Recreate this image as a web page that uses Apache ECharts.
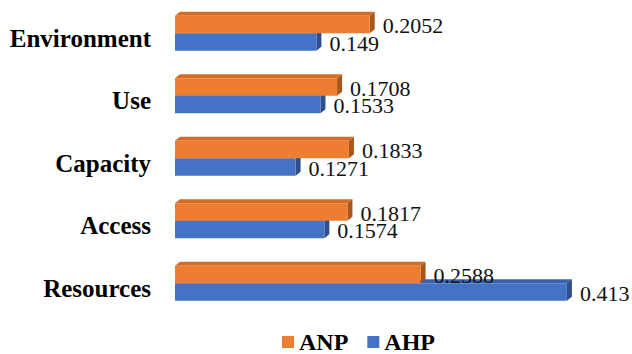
<!DOCTYPE html>
<html>
<head>
<meta charset="utf-8">
<script src="https://cdn.jsdelivr.net/npm/echarts@6/dist/echarts.min.js"></script>
<style>
  html, body { margin: 0; padding: 0; background: #ffffff; }
  #chart { width: 632px; height: 354px; }
</style>
</head>
<body>
<div id="chart"></div>
<script>
// Criteria (top to bottom) and the weights from the two methods
const categories = ['Environment', 'Use', 'Capacity', 'Access', 'Resources'];
const anpValues = [0.2052, 0.1708, 0.1833, 0.1817, 0.2588];
const ahpValues = [0.149, 0.1533, 0.1271, 0.1574, 0.413];
const seriesNames = ['ANP', 'AHP'];

const FONT = '"Liberation Serif", "Times New Roman", serif';
const DEPTH_X = 5, DEPTH_Y = 4;       // extrusion of the pseudo-3D faces
const BAR_RATIO = 0.28;               // bar thickness as a share of a category band

const palette = {
  ANP: { front: '#ED7D31', top: '#D36B26', side: '#A9561C' },
  AHP: { front: '#4472C4', top: '#3A63AD', side: '#2D4F8E' }
};

// Draws one extruded bar (front, top and right faces) plus its value label.
function makeRenderer(name, slot) {
  const c = palette[name];
  return function (params, api) {
    const cat = api.value(0);
    const val = api.value(1);
    const band = api.size([0, 1])[1];
    const bw = band * BAR_RATIO;
    const origin = api.coord([0, cat]);
    const end = api.coord([val, cat]);
    const x0 = origin[0], x1 = end[0];
    const y0 = slot === 0 ? origin[1] - bw : origin[1];
    const y1 = y0 + bw;
    return {
      type: 'group',
      children: [
        { type: 'polygon', shape: { points: [[x0, y0], [x0 + DEPTH_X, y0 - DEPTH_Y], [x1 + DEPTH_X, y0 - DEPTH_Y], [x1, y0]] }, style: { fill: c.top } },
        { type: 'polygon', shape: { points: [[x1, y0], [x1 + DEPTH_X, y0 - DEPTH_Y], [x1 + DEPTH_X, y1 - DEPTH_Y], [x1, y1]] }, style: { fill: c.side } },
        { type: 'rect', shape: { x: x0, y: y0, width: x1 - x0, height: bw }, style: { fill: c.front } },
        { type: 'text', z2: 10, style: { text: String(val), x: x1 + 13, y: (y0 + y1) / 2 + 1, verticalAlign: 'middle', align: 'left', font: '22px ' + FONT, fill: '#111111' } }
      ]
    };
  };
}

const chart = echarts.init(document.getElementById('chart'), null, { renderer: 'svg' });

chart.setOption({
  backgroundColor: '#ffffff',
  animation: false,
  grid: { left: 175, top: 2, width: 427, height: 312.5, containLabel: false },
  xAxis: {
    type: 'value', min: 0, max: 0.45,
    show: false
  },
  yAxis: {
    type: 'category', data: categories, inverse: true,
    axisLine: { show: false }, axisTick: { show: false },
    axisLabel: {
      margin: 24,
      formatter: (v) => '{cat|' + v + '}',
      rich: {
        cat: {
          color: '#000000', fontFamily: FONT, fontSize: 25, fontWeight: 'bold',
          padding: [10, 0, 0, 0]
        }
      }
    }
  },
  legend: {
    data: seriesNames, left: 282, top: 330, padding: 0,
    itemWidth: 12, itemHeight: 12, itemGap: 19, icon: 'rect',
    textStyle: { fontFamily: FONT, fontSize: 24, fontWeight: 'bold', color: '#000000' }
  },
  series: [
    {
      name: 'AHP', type: 'custom', renderItem: makeRenderer('AHP', 1),
      itemStyle: { color: palette.AHP.front },
      encode: { x: 1, y: 0 },
      data: ahpValues.map((v, i) => [i, v])
    },
    {
      name: 'ANP', type: 'custom', renderItem: makeRenderer('ANP', 0),
      itemStyle: { color: palette.ANP.front },
      encode: { x: 1, y: 0 },
      data: anpValues.map((v, i) => [i, v])
    }
  ]
});
</script>
</body>
</html>
